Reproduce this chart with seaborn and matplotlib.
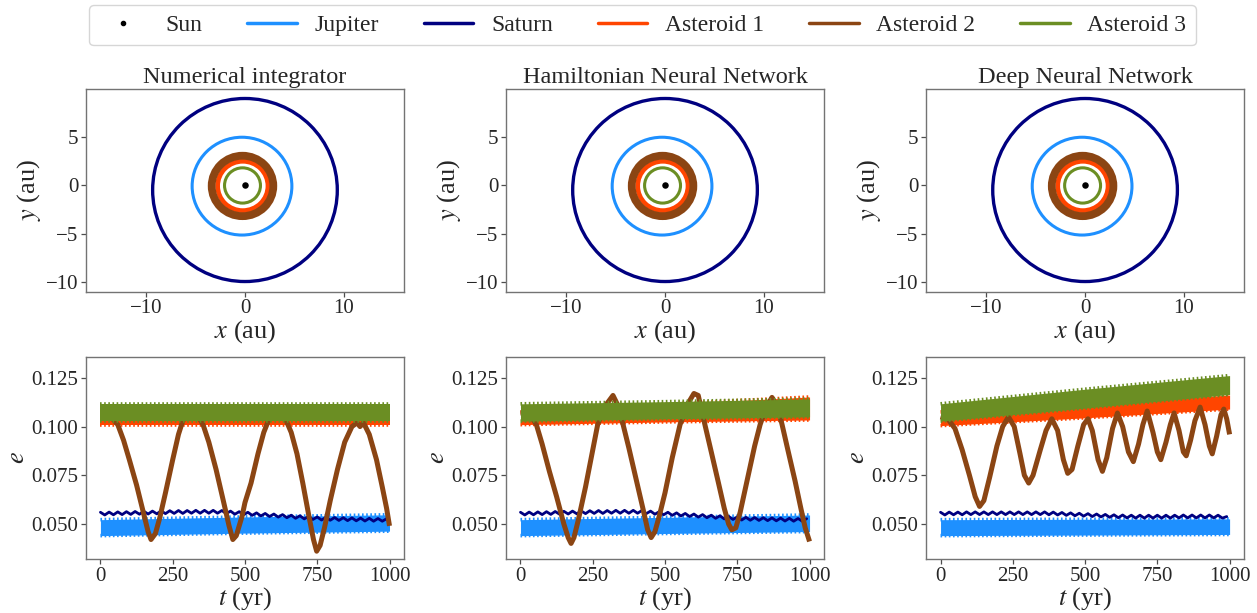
"""Three-body-plus-asteroids comparison: orbits (top) and eccentricity vs time (bottom)."""

import matplotlib
matplotlib.use("Agg")
import matplotlib.pyplot as plt
from matplotlib.lines import Line2D
from matplotlib.patches import Ellipse
from matplotlib.ticker import FormatStrFormatter
import numpy as np
import pandas as pd
import seaborn as sns

PANEL_TITLES = ["Numerical integrator", "Hamiltonian Neural Network", "Deep Neural Network"]
BODIES = ["Sun", "Jupiter", "Saturn", "Asteroid 1", "Asteroid 2", "Asteroid 3"]
COLORS = {
    "Sun": "black",
    "Jupiter": "dodgerblue",
    "Saturn": "navy",
    "Asteroid 1": "orangered",
    "Asteroid 2": "saddlebrown",
    "Asteroid 3": "olivedrab",
}

# orbit ellipses (same in every panel), in au
ORBIT_BODIES = ["Jupiter", "Saturn", "Asteroid 1", "Asteroid 2", "Asteroid 3"]
ORBIT_CX = [-0.30, 0.00, -0.22, -0.25, -0.25]
ORBIT_CY = [-0.07, -0.47, -0.05, -0.05, 0.00]
ORBIT_A = [5.05, 9.35, 2.55, 3.12, 1.82]
ORBIT_B = [5.05, 9.45, 2.55, 3.12, 1.82]
ORBIT_LW = [2.2, 2.4, 3.4, 5.6, 2.2]

# eccentricity bands (fast oscillation envelopes) at these times
BAND_T = [0, 500, 1000]
JUP_LO = {"num": [0.0440, 0.0453, 0.0463], "hnn": [0.0440, 0.0451, 0.0461], "dnn": [0.0440, 0.0443, 0.0446]}
JUP_HI = {"num": [0.0522, 0.0536, 0.0547], "hnn": [0.0522, 0.0534, 0.0546], "dnn": [0.0522, 0.0524, 0.0526]}
AST1_LO = {"num": [0.1010, 0.1010, 0.1010], "hnn": [0.1010, 0.1024, 0.1034], "dnn": [0.1005, 0.1045, 0.1090]}
AST1_HI = {"num": [0.1075, 0.1075, 0.1075], "hnn": [0.1075, 0.1115, 0.1152], "dnn": [0.1075, 0.1120, 0.1162]}
AST3_LO = {"num": [0.1028, 0.1028, 0.1028], "hnn": [0.1028, 0.1040, 0.1050], "dnn": [0.1028, 0.1095, 0.1165]}
AST3_HI = {"num": [0.1117, 0.1117, 0.1117], "hnn": [0.1117, 0.1128, 0.1142], "dnn": [0.1117, 0.1192, 0.1262]}

# Saturn eccentricity, sampled every 15 yr
SATURN_T = np.arange(0, 991, 15)
SATURN_E_NUM = [
    0.0560, 0.0546, 0.0561, 0.0547, 0.0562, 0.0548, 0.0563, 0.0549, 0.0564, 0.0550,
    0.0565, 0.0551, 0.0566, 0.0552, 0.0567, 0.0553, 0.0568, 0.0554, 0.0569, 0.0554,
    0.0569, 0.0555, 0.0570, 0.0555, 0.0570, 0.0555, 0.0570, 0.0555, 0.0569, 0.0553,
    0.0566, 0.0550, 0.0563, 0.0547, 0.0560, 0.0544, 0.0557, 0.0541, 0.0554, 0.0538,
    0.0551, 0.0535, 0.0548, 0.0532, 0.0545, 0.0529, 0.0542, 0.0526, 0.0539, 0.0523,
    0.0536, 0.0520, 0.0534, 0.0519, 0.0533, 0.0518, 0.0532, 0.0517, 0.0531, 0.0516,
    0.0530, 0.0515, 0.0529, 0.0514, 0.0528, 0.0514, 0.0527,
]
SATURN_E_HNN = SATURN_E_NUM  # indistinguishable from the integrator at this scale
SATURN_E_DNN = [
    0.0560, 0.0546, 0.0561, 0.0547, 0.0561, 0.0547, 0.0562, 0.0548, 0.0562, 0.0548,
    0.0562, 0.0548, 0.0562, 0.0548, 0.0562, 0.0548, 0.0562, 0.0548, 0.0562, 0.0548,
    0.0562, 0.0548, 0.0562, 0.0548, 0.0562, 0.0547, 0.0561, 0.0546, 0.0559, 0.0544,
    0.0557, 0.0542, 0.0555, 0.0540, 0.0553, 0.0538, 0.0551, 0.0536, 0.0549, 0.0534,
    0.0547, 0.0532, 0.0546, 0.0531, 0.0545, 0.0530, 0.0545, 0.0530, 0.0545, 0.0530,
    0.0545, 0.0530, 0.0545, 0.0530, 0.0545, 0.0531, 0.0546, 0.0531, 0.0546, 0.0531,
    0.0546, 0.0531, 0.0546, 0.0531, 0.0545, 0.0530, 0.0538,
]

# Asteroid 2 eccentricity (slow secular oscillation)
AST2_T_NUM = [0, 30, 60, 80, 100, 125, 150, 165, 175, 190, 205, 225, 250, 270, 285, 310, 335,
              355, 375, 400, 425, 445, 458, 470, 490, 500, 521, 545, 565, 581, 610, 640, 660,
              680, 700, 720, 737, 748, 760, 775, 795, 820, 845, 870, 888, 898, 910, 930, 955,
              975, 990, 1000]
AST2_E_NUM = [0.106, 0.106, 0.101, 0.093, 0.083, 0.070, 0.055, 0.046, 0.042, 0.045, 0.053, 0.066,
              0.083, 0.096, 0.103, 0.108, 0.106, 0.101, 0.092, 0.078, 0.062, 0.049, 0.042, 0.044,
              0.054, 0.061, 0.071, 0.086, 0.097, 0.103, 0.109, 0.104, 0.097, 0.086, 0.071, 0.055,
              0.042, 0.036, 0.039, 0.048, 0.062, 0.078, 0.092, 0.100, 0.102, 0.100, 0.102, 0.096,
              0.083, 0.069, 0.058, 0.049]
AST2_T_HNN = [0, 30, 55, 75, 100, 125, 150, 165, 175, 185, 200, 225, 250, 267, 290, 320, 340,
              355, 375, 400, 425, 440, 452, 465, 480, 500, 525, 552, 580, 600, 615, 638, 660,
              685, 705, 720, 731, 745, 760, 785, 810, 829, 850, 870, 890, 905, 925, 950, 970,
              985, 1000]
AST2_E_HNN = [0.107, 0.107, 0.101, 0.091, 0.077, 0.064, 0.050, 0.043, 0.040, 0.043, 0.052, 0.069,
              0.088, 0.101, 0.110, 0.116, 0.110, 0.101, 0.089, 0.073, 0.057, 0.047, 0.043, 0.046,
              0.054, 0.066, 0.084, 0.101, 0.112, 0.117, 0.116, 0.101, 0.087, 0.071, 0.058, 0.050,
              0.047, 0.048, 0.056, 0.073, 0.090, 0.101, 0.110, 0.115, 0.110, 0.101, 0.088, 0.072,
              0.058, 0.048, 0.041]
AST2_T_DNN = [0, 25, 50, 75, 100, 120, 135, 150, 170, 195, 215, 235, 255, 275, 290, 305, 320,
              345, 365, 385, 405, 425, 440, 455, 475, 495, 510, 525, 545, 560, 575, 595, 612,
              630, 650, 667, 685, 700, 715, 735, 750, 762, 780, 795, 808, 825, 840, 850, 865,
              880, 898, 915, 930, 940, 955, 970, 980, 990, 1000]
AST2_E_DNN = [0.105, 0.104, 0.099, 0.088, 0.075, 0.064, 0.059, 0.062, 0.074, 0.090, 0.100, 0.105,
              0.100, 0.086, 0.075, 0.071, 0.075, 0.088, 0.098, 0.104, 0.098, 0.083, 0.076, 0.078,
              0.090, 0.101, 0.104, 0.098, 0.083, 0.077, 0.084, 0.099, 0.107, 0.100, 0.087, 0.082,
              0.091, 0.101, 0.108, 0.097, 0.087, 0.083, 0.092, 0.101, 0.107, 0.098, 0.087, 0.085,
              0.093, 0.103, 0.110, 0.101, 0.090, 0.086, 0.095, 0.106, 0.109, 0.104, 0.096]

PANELS = [
    ("num", SATURN_E_NUM, AST2_T_NUM, AST2_E_NUM),
    ("hnn", SATURN_E_HNN, AST2_T_HNN, AST2_E_HNN),
    ("dnn", SATURN_E_DNN, AST2_T_DNN, AST2_E_DNN),
]


def draw_orbits(ax):
    for name, cx, cy, a, b, lw in zip(ORBIT_BODIES, ORBIT_CX, ORBIT_CY, ORBIT_A, ORBIT_B, ORBIT_LW):
        ax.add_patch(Ellipse((cx, cy), 2 * a, 2 * b, fill=False,
                             edgecolor=COLORS[name], lw=lw))
    sns.scatterplot(x=[0.0], y=[0.0], color=COLORS["Sun"], s=22, linewidth=0, ax=ax, zorder=5)
    ax.set_xlim(-16.1, 16.1)
    ax.set_ylim(-10.95, 9.96)
    ax.set_xticks([-10, 0, 10])
    ax.set_yticks([-10, -5, 0, 5])
    ax.set_xlabel(r"$x$ (au)")
    ax.set_ylabel(r"$y$ (au)")


def band(ax, lo, hi, color, z):
    # dense fast oscillation: filled envelope, jagged edges via short dashes
    ax.fill_between(BAND_T, lo, hi, color=color, lw=0, zorder=z)
    for edge in (lo, hi):
        ax.plot(BAND_T, edge, color=color, lw=2.6, ls=(0, (0.45, 0.7)), zorder=z)


def draw_ecc(ax, key, sat_e, a2_t, a2_e):
    band(ax, JUP_LO[key], JUP_HI[key], COLORS["Jupiter"], 2)
    sns.lineplot(x=SATURN_T, y=sat_e, color=COLORS["Saturn"], lw=2.0, ax=ax, zorder=3)
    band(ax, AST1_LO[key], AST1_HI[key], COLORS["Asteroid 1"], 4)
    sns.lineplot(x=a2_t, y=a2_e, color=COLORS["Asteroid 2"], lw=3.6, ax=ax, sort=False,
                 zorder=5, solid_capstyle="butt")
    band(ax, AST3_LO[key], AST3_HI[key], COLORS["Asteroid 3"], 6)
    ax.set_xlim(-50, 1050)
    ax.set_ylim(0.032, 0.136)
    ax.set_xticks([0, 250, 500, 750, 1000])
    ax.set_yticks([0.050, 0.075, 0.100, 0.125])
    ax.yaxis.set_major_formatter(FormatStrFormatter("%.3f"))
    ax.set_xlabel(r"$t$ (yr)")
    ax.set_ylabel(r"$e$")


def main():
    sns.set_style("ticks", {"axes.edgecolor": "0.45"})
    plt.rcParams["font.family"] = ["Liberation Serif", "DejaVu Serif"]
    plt.rcParams["mathtext.fontset"] = "stix"
    plt.rcParams["font.size"] = 15
    plt.rcParams["axes.labelsize"] = 19
    plt.rcParams["xtick.labelsize"] = 15
    plt.rcParams["ytick.labelsize"] = 15
    plt.rcParams["axes.linewidth"] = 1.0

    fig, axes = plt.subplots(2, 3, figsize=(12.57, 6.13), dpi=100)
    fig.subplots_adjust(left=0.0684, right=0.9897, bottom=0.0881, top=0.8548,
                        wspace=0.321, hspace=0.321)

    for col, (key, sat_e, a2_t, a2_e) in enumerate(PANELS):
        draw_orbits(axes[0, col])
        axes[0, col].set_title(PANEL_TITLES[col], fontsize=17.5, pad=4)
        draw_ecc(axes[1, col], key, sat_e, a2_t, a2_e)

    for ax in axes.flat:
        ax.tick_params(length=3.5, width=0.9, color="0.3", pad=2)
        ax.xaxis.labelpad = 0
        ax.yaxis.labelpad = 2

    handles = [Line2D([], [], marker="o", ms=3, ls="none", color=COLORS["Sun"])]
    handles += [Line2D([], [], color=COLORS[b], lw=2.5) for b in BODIES[1:]]
    fig.legend(handles, BODIES, loc="center", bbox_to_anchor=(0.511, 0.959), ncol=6,
               fontsize=17, handlelength=2.1, handletextpad=0.75, columnspacing=1.9,
               frameon=True)

    fig.savefig("out.png", dpi=100)
    plt.close(fig)


if __name__ == "__main__":
    main()
